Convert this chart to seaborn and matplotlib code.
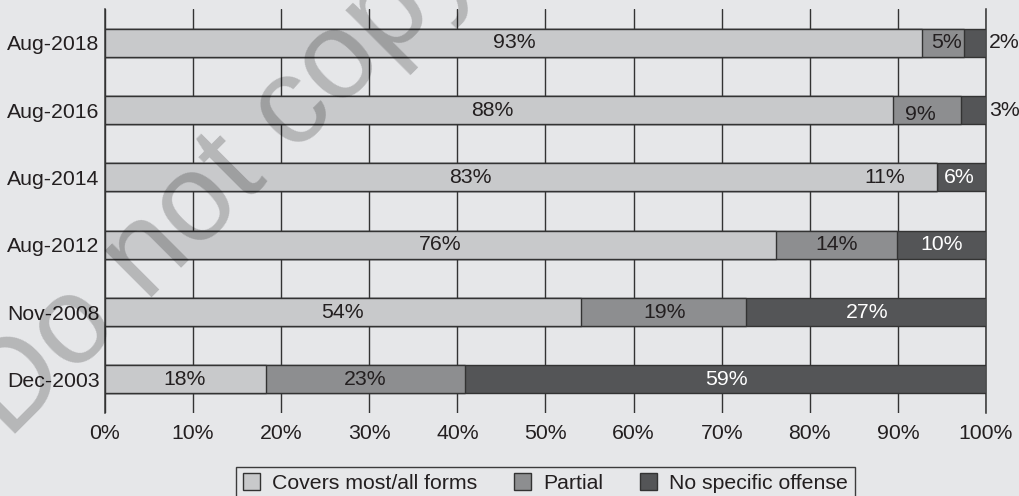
import matplotlib
matplotlib.use("Agg")
import matplotlib.pyplot as plt
from matplotlib.patches import Patch
import seaborn as sns
import pandas as pd
import numpy as np

# ---- data ----
dates = ["Aug-2018", "Aug-2016", "Aug-2014", "Aug-2012", "Nov-2008", "Dec-2003"]
# visible segment widths (as drawn in the picture, in %)
covers_drawn = [92.7, 89.4, 94.4, 76.2, 54.0, 18.3]
partial_drawn = [4.8, 7.8, 0.0, 13.7, 18.8, 22.6]
none_drawn = [2.5, 2.8, 5.6, 10.1, 27.2, 59.1]
# reported labels
covers_lab = [93, 88, 83, 76, 54, 18]
partial_lab = [5, 9, 11, 14, 19, 23]
none_lab = [2, 3, 6, 10, 27, 59]
series_names = ["Covers most/all forms", "Partial", "No specific offense"]
xticks = [0, 10, 20, 30, 40, 50, 60, 70, 80, 90, 100]

BG = "#e6e7e9"
C_LIGHT = "#c8c9cb"
C_MED = "#8d8e90"
C_DARK = "#545557"
TXT = "#231f20"
EDGE = "#333333"
FS = 15.3

sns.set_theme(style="white")
plt.rcParams["font.family"] = ["Liberation Sans", "DejaVu Sans"]

df = pd.DataFrame({
    "date": dates,
    "c1": np.array(covers_drawn),
    "c2": np.array(covers_drawn) + np.array(partial_drawn),
    "c3": np.array(covers_drawn) + np.array(partial_drawn) + np.array(none_drawn),
})

fig = plt.figure(figsize=(10.2, 4.96), dpi=100, facecolor=BG)
ax = fig.add_axes([105 / 1020, 1 - 413 / 496, (986 - 105) / 1020, (413 - 9) / 496])
ax.set_facecolor(BG)

for col, colr in [("c3", C_DARK), ("c2", C_MED), ("c1", C_LIGHT)]:
    sns.barplot(data=df, x=col, y="date", orient="h", color=colr, width=0.42,
                edgecolor=EDGE, linewidth=1.0, saturation=1, ax=ax, zorder=3)

ax.set_xlim(0, 100)
ax.set_ylim(5.5, -0.5)
ax.set_xticks(xticks)
ax.set_xticklabels([f"{t}%" for t in xticks])
ax.set_xlabel("")
ax.set_ylabel("")
ax.xaxis.grid(True, color=EDGE, linewidth=1.0, zorder=0)
ax.yaxis.grid(False)
ax.set_axisbelow(True)
for s in ["top", "bottom"]:
    ax.spines[s].set_visible(False)
for s in ["left", "right"]:
    ax.spines[s].set_color(EDGE)
    ax.spines[s].set_linewidth(1.1)
ax.spines["left"].set_zorder(5)
ax.tick_params(axis="x", length=0, pad=8, labelsize=FS, labelcolor=TXT)
ax.tick_params(axis="y", length=0, pad=4, labelsize=FS, labelcolor=TXT)

# value labels
for i in range(len(dates)):
    a, b, c = covers_lab[i], partial_lab[i], none_lab[i]
    ax.text(a / 2, i, f"{a}%", ha="center", va="center", fontsize=FS, color=TXT, zorder=6)
    dy = 0.07 if dates[i] in ("Aug-2016",) else 0.0
    ax.text(a + b / 2, i + dy, f"{b}%", ha="center", va="center", fontsize=FS, color=TXT, zorder=6)
    if c <= 3:
        ax.text(100.3, i, f"{c}%", ha="left", va="center", fontsize=FS, color=TXT,
                zorder=6, clip_on=False)
    else:
        ax.text(100 - c / 2, i, f"{c}%", ha="center", va="center", fontsize=FS,
                color="white", zorder=6)

handles = [Patch(facecolor=C_LIGHT, edgecolor=EDGE, linewidth=1.0),
           Patch(facecolor=C_MED, edgecolor=EDGE, linewidth=1.0),
           Patch(facecolor=C_DARK, edgecolor=EDGE, linewidth=1.0)]
leg = fig.legend(handles, series_names, loc="upper center",
                 bbox_to_anchor=(545.5 / 1020, 1 - 467 / 496), ncol=3,
                 fontsize=FS, frameon=True, fancybox=False, handlelength=0.8,
                 handleheight=0.8, handletextpad=0.6, columnspacing=1.7,
                 borderpad=0.3, borderaxespad=0)
leg.get_frame().set_edgecolor("#111111")
leg.get_frame().set_facecolor(BG)
leg.get_frame().set_linewidth(1.0)
for t in leg.get_texts():
    t.set_color(TXT)

# watermark
fig.text(222 / 1020, 1 - 182 / 496, "Do not copy", rotation=45, fontsize=90,
         color="black", alpha=0.21, ha="center", va="center", zorder=10)

fig.savefig("out.png", dpi=100, facecolor=BG)
